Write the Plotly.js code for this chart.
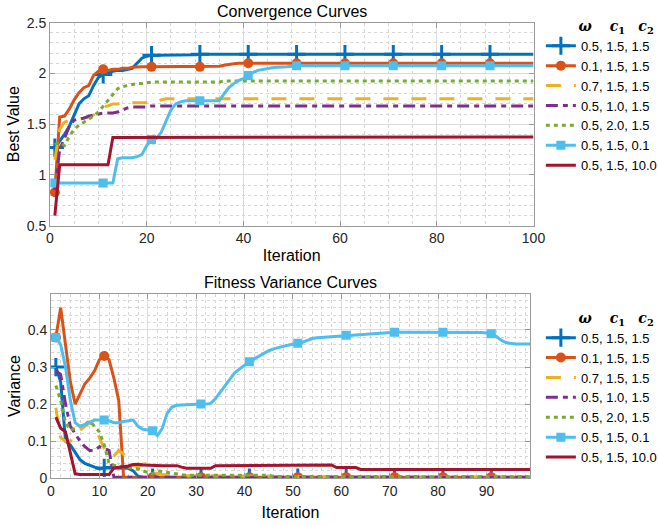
<!DOCTYPE html>
<html><head><meta charset="utf-8">
<script src="https://cdn.plot.ly/plotly-3.0.1.min.js"></script>
<style>html,body{margin:0;padding:0;background:#fff;}#chart{width:658px;height:525px;}</style>
</head><body><div id="chart"></div>
<script>
// ---------- data ----------
const iterations = Array.from({length: 100}, (_, i) => i + 1);
const seriesNames = ['0.5, 1.5, 1.5', '0.1, 1.5, 1.5', '0.7, 1.5, 1.5', '0.5, 1.0, 1.5', '0.5, 2.0, 1.5', '0.5, 1.5, 0.1', '0.5, 1.5, 10.0'];
const xTicksTop = [0, 20, 40, 60, 80, 100];
const yTicksTop = [0.5, 1, 1.5, 2, 2.5];
const xTicksBottom = [0, 10, 20, 30, 40, 50, 60, 70, 80, 90];
const yTicksBottom = [0, 0.1, 0.2, 0.3, 0.4];

// Best value (Convergence Curves)
const bestA = [1.27,1.33,1.40,1.48,1.59,1.70,1.75,1.78,1.88,1.96,
  1.99,2.01,2.02,2.03,2.03,2.04,2.05,2.10,2.15,2.17,
  2.18,2.18,2.18,2.18,2.18,2.185,2.185,2.185,2.185,2.185,
  2.19,2.19,2.19,2.19,2.19,2.19,2.19,2.19,2.19,2.19,
  2.19,2.19,2.19,2.19,2.19,2.19,2.19,2.19,2.19,2.19,
  2.19,2.19,2.19,2.19,2.19,2.19,2.19,2.19,2.19,2.19,
  2.19,2.19,2.19,2.19,2.19,2.19,2.19,2.19,2.19,2.19,
  2.19,2.19,2.19,2.19,2.19,2.19,2.19,2.19,2.19,2.19,
  2.19,2.19,2.19,2.19,2.19,2.19,2.19,2.19,2.19,2.19,
  2.19,2.19,2.19,2.19,2.19,2.19,2.19,2.19,2.19,2.19];
const bestB = [0.83,1.57,1.58,1.65,1.74,1.81,1.86,1.88,1.98,2.02,
  2.04,2.03,2.04,2.04,2.05,2.05,2.06,2.065,2.065,2.065,
  2.065,2.065,2.065,2.065,2.065,2.065,2.065,2.065,2.065,2.065,
  2.065,2.065,2.065,2.065,2.07,2.08,2.09,2.095,2.10,2.10,
  2.10,2.10,2.10,2.10,2.10,2.10,2.10,2.10,2.10,2.10,
  2.10,2.10,2.10,2.10,2.10,2.10,2.10,2.10,2.10,2.10,
  2.10,2.10,2.10,2.10,2.10,2.10,2.10,2.10,2.10,2.10,
  2.10,2.10,2.10,2.10,2.10,2.10,2.10,2.10,2.10,2.10,
  2.10,2.10,2.10,2.10,2.10,2.10,2.10,2.10,2.10,2.10,
  2.10,2.10,2.10,2.10,2.10,2.10,2.10,2.10,2.10,2.10];
const bestC = [1.15,1.45,1.52,1.54,1.55,1.55,1.56,1.57,1.59,1.63,
  1.67,1.68,1.70,1.70,1.71,1.71,1.71,1.71,1.71,1.71,
  1.71,1.71,1.74,1.75,1.75,1.75,1.75,1.75,1.75,1.75,
  1.75,1.75,1.75,1.75,1.75,1.75,1.75,1.75,1.75,1.75,
  1.75,1.75,1.75,1.75,1.75,1.75,1.75,1.75,1.75,1.75,
  1.75,1.75,1.75,1.75,1.75,1.75,1.75,1.75,1.75,1.75,
  1.75,1.75,1.75,1.75,1.75,1.75,1.75,1.75,1.75,1.75,
  1.75,1.75,1.75,1.75,1.75,1.75,1.75,1.75,1.75,1.75,
  1.75,1.75,1.75,1.75,1.75,1.75,1.75,1.75,1.75,1.75,
  1.75,1.75,1.75,1.75,1.75,1.75,1.75,1.75,1.75,1.75];
const bestD = [0.85,1.25,1.36,1.48,1.54,1.55,1.56,1.58,1.59,1.60,
  1.61,1.61,1.61,1.62,1.64,1.66,1.67,1.67,1.67,1.67,
  1.68,1.68,1.68,1.68,1.68,1.68,1.68,1.68,1.68,1.68,
  1.68,1.68,1.68,1.68,1.68,1.68,1.68,1.68,1.68,1.68,
  1.68,1.68,1.68,1.68,1.68,1.68,1.68,1.68,1.68,1.68,
  1.68,1.68,1.68,1.68,1.68,1.68,1.68,1.68,1.68,1.68,
  1.68,1.68,1.68,1.68,1.68,1.68,1.68,1.68,1.68,1.68,
  1.68,1.68,1.68,1.68,1.68,1.68,1.68,1.68,1.68,1.68,
  1.68,1.68,1.68,1.68,1.68,1.68,1.68,1.68,1.68,1.68,
  1.68,1.68,1.68,1.68,1.68,1.68,1.68,1.68,1.68,1.68];
const bestE = [1.30,1.32,1.29,1.38,1.45,1.49,1.52,1.55,1.58,1.62,
  1.68,1.73,1.80,1.85,1.87,1.88,1.89,1.90,1.90,1.91,
  1.915,1.915,1.915,1.915,1.915,1.915,1.915,1.915,1.915,1.915,
  1.915,1.915,1.915,1.915,1.915,1.925,1.925,1.925,1.925,1.925,
  1.925,1.925,1.925,1.925,1.925,1.925,1.925,1.925,1.925,1.925,
  1.925,1.925,1.925,1.925,1.925,1.925,1.925,1.925,1.925,1.925,
  1.925,1.925,1.925,1.925,1.925,1.925,1.925,1.925,1.925,1.925,
  1.925,1.925,1.925,1.925,1.925,1.925,1.925,1.925,1.925,1.925,
  1.925,1.925,1.925,1.925,1.925,1.925,1.925,1.925,1.925,1.925,
  1.925,1.925,1.925,1.925,1.925,1.925,1.925,1.925,1.925,1.925];
const bestF = [0.92,0.92,0.92,0.92,0.92,0.92,0.92,0.92,0.92,0.92,
  0.92,0.92,0.92,1.16,1.17,1.17,1.17,1.18,1.20,1.29,
  1.35,1.36,1.42,1.53,1.64,1.70,1.72,1.73,1.73,1.73,
  1.73,1.73,1.73,1.73,1.73,1.80,1.86,1.90,1.93,1.95,
  1.98,2.01,2.03,2.04,2.05,2.055,2.06,2.06,2.065,2.07,
  2.075,2.075,2.075,2.075,2.075,2.075,2.075,2.075,2.075,2.075,
  2.075,2.075,2.075,2.075,2.075,2.075,2.075,2.075,2.075,2.075,
  2.075,2.075,2.075,2.075,2.075,2.075,2.075,2.075,2.075,2.075,
  2.075,2.075,2.075,2.075,2.075,2.075,2.075,2.075,2.075,2.075,
  2.075,2.075,2.075,2.075,2.075,2.075,2.075,2.075,2.075,2.075];
const bestG = [0.60,1.10,1.10,1.10,1.10,1.10,1.10,1.10,1.10,1.10,
  1.10,1.10,1.37,1.37,1.37,1.37,1.37,1.37,1.37,1.37,
  1.37,1.37,1.37,1.37,1.37,1.37,1.37,1.37,1.37,1.37,
  1.37,1.37,1.37,1.37,1.37,1.375,1.375,1.375,1.375,1.375,
  1.375,1.375,1.375,1.375,1.375,1.375,1.375,1.375,1.375,1.375,
  1.375,1.375,1.375,1.375,1.375,1.375,1.375,1.375,1.375,1.375,
  1.375,1.375,1.375,1.375,1.375,1.375,1.375,1.375,1.375,1.375,
  1.375,1.375,1.375,1.375,1.375,1.375,1.375,1.375,1.375,1.375,
  1.375,1.375,1.375,1.375,1.375,1.375,1.375,1.375,1.375,1.375,
  1.375,1.375,1.375,1.375,1.375,1.375,1.375,1.375,1.375,1.375];

// Variance (Fitness Variance Curves)
const varA = [0.30,0.26,0.10,0.09,0.07,0.05,0.04,0.035,0.03,0.025,
  0.028,0.03,0.028,0.027,0.028,0.027,0.02,0.005,0.003,0.002,
  0.002,0.002,0.002,0.002,0.002,0.002,0.002,0.002,0.002,0.002,
  0.002,0.002,0.002,0.002,0.002,0.002,0.002,0.002,0.002,0.002,
  0.002,0.002,0.002,0.002,0.002,0.002,0.002,0.002,0.002,0.002,
  0.002,0.002,0.002,0.002,0.002,0.002,0.002,0.002,0.002,0.002,
  0.002,0.002,0.002,0.002,0.002,0.002,0.002,0.002,0.002,0.002,
  0.002,0.002,0.002,0.002,0.002,0.002,0.002,0.002,0.002,0.002,
  0.002,0.002,0.002,0.002,0.002,0.002,0.002,0.002,0.002,0.002,
  0.002,0.002,0.002,0.002,0.002,0.002,0.002,0.002,0.002,0.002];
const varB = [0.38,0.46,0.36,0.26,0.20,0.23,0.255,0.27,0.29,0.32,
  0.33,0.32,0.27,0.21,0.003,0.003,0.003,0.003,0.003,0.003,
  0.003,0.003,0.003,0.003,0.003,0.003,0.003,0.003,0.003,0.003,
  0.003,0.003,0.003,0.003,0.003,0.003,0.003,0.003,0.003,0.003,
  0.003,0.003,0.003,0.003,0.003,0.003,0.003,0.003,0.003,0.003,
  0.003,0.003,0.003,0.003,0.003,0.003,0.003,0.003,0.003,0.003,
  0.003,0.003,0.003,0.003,0.003,0.003,0.003,0.003,0.003,0.003,
  0.003,0.003,0.003,0.003,0.003,0.003,0.003,0.003,0.003,0.003,
  0.003,0.003,0.003,0.003,0.003,0.003,0.003,0.003,0.003,0.003,
  0.003,0.003,0.003,0.003,0.003,0.003,0.003,0.003,0.003,0.003];
const varC = [0.19,0.11,0.10,0.10,0.12,0.13,0.14,0.15,0.14,0.11,
  0.08,0.06,0.06,0.075,0.065,0.05,0.035,0.03,0.038,0.04,
  0.02,0.012,0.01,0.008,0.007,0.007,0.007,0.007,0.007,0.007,
  0.007,0.007,0.007,0.007,0.007,0.007,0.007,0.007,0.007,0.007,
  0.006,0.006,0.006,0.006,0.006,0.004,0.004,0.004,0.004,0.004,
  0.003,0.003,0.003,0.003,0.003,0.003,0.003,0.003,0.003,0.003,
  0.003,0.003,0.003,0.003,0.003,0.003,0.003,0.003,0.003,0.003,
  0.003,0.003,0.003,0.003,0.003,0.003,0.003,0.003,0.003,0.003,
  0.003,0.003,0.003,0.003,0.003,0.003,0.003,0.003,0.003,0.003,
  0.003,0.003,0.003,0.003,0.003,0.003,0.003,0.003,0.003,0.003];
const varD = [0.29,0.28,0.20,0.14,0.12,0.10,0.085,0.075,0.075,0.085,
  0.08,0.075,0.003,0.003,0.003,0.003,0.003,0.003,0.003,0.003,
  0.003,0.003,0.003,0.003,0.003,0.003,0.003,0.003,0.003,0.003,
  0.003,0.003,0.003,0.003,0.003,0.003,0.003,0.003,0.003,0.003,
  0.003,0.003,0.003,0.003,0.003,0.003,0.003,0.003,0.003,0.003,
  0.003,0.003,0.003,0.003,0.003,0.003,0.003,0.003,0.003,0.003,
  0.003,0.003,0.003,0.003,0.003,0.003,0.003,0.003,0.003,0.003,
  0.003,0.003,0.003,0.003,0.003,0.003,0.003,0.003,0.003,0.003,
  0.003,0.003,0.003,0.003,0.003,0.003,0.003,0.003,0.003,0.003,
  0.003,0.003,0.003,0.003,0.003,0.003,0.003,0.003,0.003,0.003];
const varE = [0.25,0.21,0.15,0.13,0.135,0.14,0.145,0.155,0.14,0.125,
  0.09,0.04,0.035,0.033,0.03,0.028,0.028,0.025,0.02,0.015,
  0.012,0.02,0.018,0.015,0.012,0.01,0.008,0.008,0.008,0.008,
  0.008,0.008,0.008,0.008,0.008,0.008,0.008,0.008,0.008,0.008,
  0.008,0.008,0.008,0.008,0.008,0.005,0.005,0.005,0.005,0.005,
  0.004,0.004,0.004,0.004,0.004,0.004,0.004,0.004,0.004,0.004,
  0.004,0.004,0.004,0.004,0.004,0.004,0.004,0.004,0.004,0.004,
  0.004,0.004,0.004,0.004,0.004,0.004,0.004,0.004,0.004,0.004,
  0.004,0.004,0.004,0.004,0.004,0.004,0.004,0.004,0.004,0.004,
  0.004,0.004,0.004,0.004,0.004,0.004,0.004,0.004,0.004,0.004];
const varF = [0.38,0.36,0.30,0.21,0.15,0.14,0.145,0.152,0.157,0.157,
  0.157,0.155,0.15,0.15,0.153,0.155,0.157,0.14,0.132,0.13,
  0.128,0.115,0.135,0.175,0.192,0.197,0.198,0.199,0.20,0.20,
  0.20,0.20,0.202,0.215,0.233,0.25,0.27,0.285,0.295,0.305,
  0.314,0.322,0.33,0.338,0.344,0.349,0.353,0.356,0.359,0.362,
  0.364,0.367,0.372,0.377,0.379,0.38,0.381,0.382,0.383,0.384,
  0.386,0.387,0.388,0.389,0.39,0.391,0.392,0.393,0.393,0.394,
  0.394,0.394,0.394,0.394,0.394,0.394,0.394,0.394,0.394,0.394,
  0.394,0.395,0.395,0.395,0.395,0.395,0.395,0.394,0.393,0.392,
  0.39,0.383,0.373,0.366,0.363,0.362,0.362,0.362,0.362,0.362];
const varG = [0.165,0.135,0.125,0.07,0.012,0.01,0.01,0.01,0.01,0.01,
  0.01,0.01,0.028,0.03,0.03,0.033,0.037,0.038,0.036,0.035,
  0.034,0.034,0.034,0.034,0.034,0.034,0.03,0.027,0.027,0.027,
  0.027,0.027,0.027,0.034,0.034,0.034,0.034,0.034,0.034,0.034,
  0.034,0.034,0.034,0.034,0.034,0.036,0.036,0.036,0.036,0.036,
  0.036,0.036,0.036,0.036,0.036,0.036,0.036,0.036,0.029,0.029,
  0.029,0.029,0.029,0.024,0.024,0.024,0.024,0.024,0.024,0.024,
  0.024,0.024,0.024,0.024,0.024,0.024,0.024,0.024,0.024,0.024,
  0.024,0.024,0.024,0.024,0.024,0.024,0.024,0.024,0.024,0.024,
  0.024,0.024,0.024,0.024,0.024,0.024,0.024,0.024,0.024,0.024];

// ---------- styles ----------
const styles = [
  {color: '#0072BD', dash: 'solid', symbol: 'cross-thin-open', size: 13, open: true},
  {color: '#D95319', dash: 'solid', symbol: 'circle', size: 10},
  {color: '#EDB120', dash: '15px,13px'},
  {color: '#7E2F8E', dash: '12px,5px,5px,5px'},
  {color: '#77AC30', dash: '4px,4px'},
  {color: '#4DBEEE', dash: 'solid', symbol: 'square', size: 9},
  {color: '#A2142F', dash: 'solid'}
];
const topSeries = [bestA, bestB, bestC, bestD, bestE, bestF, bestG];
const bottomSeries = [varA, varB, varC, varD, varE, varF, varG];
const CLEAR = 'rgba(0,0,0,0)';

function makeTrace(y, k, xa, ya, legend) {
  const s = styles[k];
  const t = {
    x: iterations, y: y, type: 'scatter', name: seriesNames[k],
    xaxis: xa, yaxis: ya, legend: legend, showlegend: true,
    line: {color: s.color, width: 3, dash: s.dash},
    mode: s.symbol ? 'lines+markers' : 'lines',
    hoverinfo: 'skip'
  };
  if (s.symbol) {
    const cols = iterations.map((v, i) => (i % 10 === 0 ? s.color : CLEAR));
    t.marker = {symbol: s.symbol, size: s.size, color: cols,
      line: {width: s.open ? 3 : 0, color: s.open ? cols : s.color}};
  }
  return t;
}
const traces = [];
topSeries.forEach((y, k) => traces.push(makeTrace(y, k, 'x', 'y', 'legend')));
bottomSeries.forEach((y, k) => traces.push(makeTrace(y, k, 'x2', 'y2', 'legend2')));

const tickFont = {family: 'Liberation Sans, Arial, sans-serif', size: 14, color: '#262626'};
const titleFont = {family: 'Liberation Sans, Arial, sans-serif', size: 16, color: '#000'};
function axis(extra) {
  return Object.assign({
    showline: true, mirror: 'ticks', linecolor: '#9a9a9a', linewidth: 1,
    ticks: 'inside', ticklen: 5, tickcolor: '#9a9a9a', tickwidth: 1,
    showgrid: true, gridcolor: '#dcdcdc', gridwidth: 1, zeroline: false,
    tickfont: tickFont, fixedrange: true
  }, extra);
}
const NB = '\u00a0';
const legendTitle = NB.repeat(8) + '<b><i>\u03c9</i></b>' + NB.repeat(4) + '<b><i>c</i><sub>1</sub></b>' + NB.repeat(3) + '<b><i>c</i><sub>2</sub></b>';
function legendCfg(ytop) {
  return {
    x: 0.822, y: ytop, xanchor: 'left', yanchor: 'top',
    bgcolor: 'rgba(0,0,0,0)', borderwidth: 0, itemwidth: 30, tracegroupgap: 0,
    font: {family: 'Liberation Sans, Arial, sans-serif', size: 13, color: '#000'},
    title: {text: legendTitle, side: 'top',
      font: {family: 'DejaVu Serif, serif', size: 14, color: '#000'}}
  };
}

const layout = {
  width: 658, height: 525, margin: {l: 0, r: 0, t: 0, b: 0, autoexpand: false},
  paper_bgcolor: '#fff', plot_bgcolor: '#fff', showlegend: true,
  xaxis: axis({domain: [0.076, 0.8108], range: [0, 100], tickvals: xTicksTop, anchor: 'y',
    minor: {dtick: 5, showgrid: true, gridcolor: '#d6d6d6', griddash: 'dot', gridwidth: 1},
    title: {text: 'Iteration', font: titleFont, standoff: 4}}),
  yaxis: axis({domain: [0.5701, 0.9568], range: [0.5, 2.5], tickvals: yTicksTop, anchor: 'x',
    minor: {dtick: 0.1, showgrid: true, gridcolor: '#d6d6d6', griddash: 'dot', gridwidth: 1},
    title: {text: 'Best Value', font: titleFont, standoff: 3}}),
  xaxis2: axis({domain: [0.0775, 0.8055], range: [0, 99], tickvals: xTicksBottom, anchor: 'y2',
    minor: {dtick: 2, showgrid: true, gridcolor: '#d6d6d6', griddash: 'dot', gridwidth: 1},
    title: {text: 'Iteration', font: titleFont, standoff: 8}}),
  yaxis2: axis({domain: [0.089, 0.44], range: [0, 0.497], tickvals: yTicksBottom, anchor: 'x2',
    minor: {dtick: 0.02, showgrid: true, gridcolor: '#d6d6d6', griddash: 'dot', gridwidth: 1},
    title: {text: 'Variance', font: titleFont, standoff: 3}}),
  legend: legendCfg(0.976),
  legend2: legendCfg(0.42),
  annotations: [
    {text: 'Convergence Curves', xref: 'paper', yref: 'paper', x: 0.4435, y: 0.979,
      xanchor: 'center', yanchor: 'middle', showarrow: false, font: titleFont},
    {text: 'Fitness Variance Curves', xref: 'paper', yref: 'paper', x: 0.4417, y: 0.461,
      xanchor: 'center', yanchor: 'middle', showarrow: false, font: titleFont}
  ]
};
Plotly.newPlot('chart', traces, layout, {displayModeBar: false, staticPlot: true});
</script>
</body></html>
